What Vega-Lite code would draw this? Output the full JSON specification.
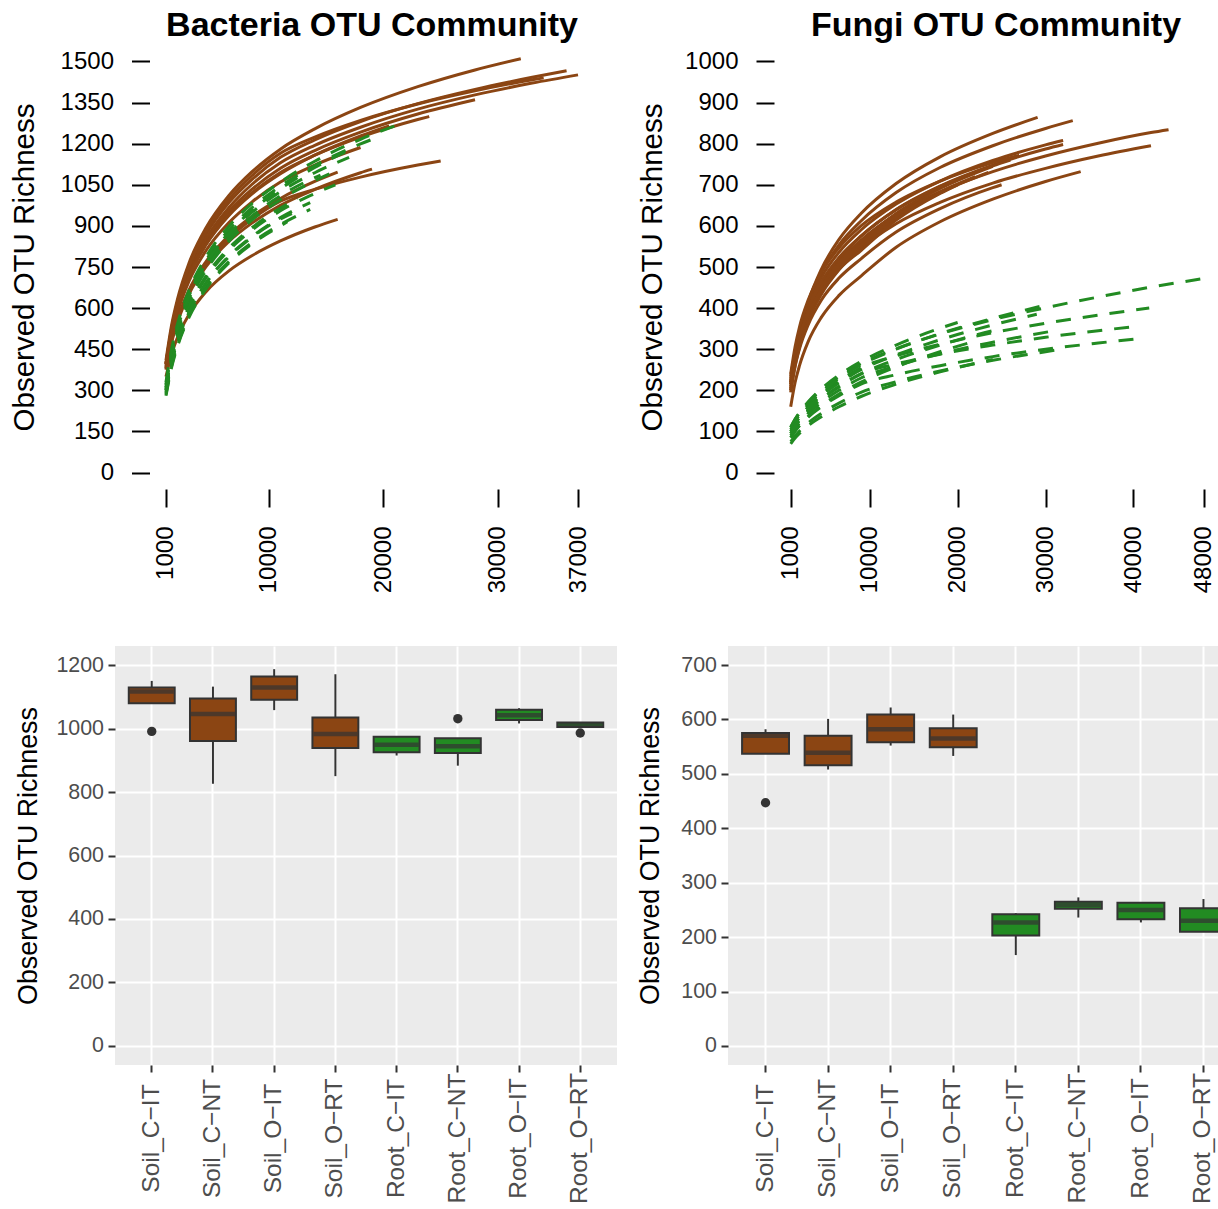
{
"$schema": "https://vega.github.io/schema/vega-lite/v6.json",
"padding": {"left": 9, "top": 9, "right": 0, "bottom": 0},
"config": {"font": "Liberation Sans", "view": {"stroke": null}},
"datasets": {
"bac": [
{"c":"B1","t":"S","x":1000,"y":410},{"c":"B1","t":"S","x":1500,"y":540},{"c":"B1","t":"S","x":2000,"y":632},{"c":"B1","t":"S","x":3000,"y":763},{"c":"B1","t":"S","x":4500,"y":893},{"c":"B1","t":"S","x":6500,"y":1011},{"c":"B1","t":"S","x":8500,"y":1097},{"c":"B1","t":"S","x":11000,"y":1180},{"c":"B1","t":"S","x":14000,"y":1254},{"c":"B1","t":"S","x":18000,"y":1332},{"c":"B1","t":"S","x":23000,"y":1408},{"c":"B1","t":"S","x":28000,"y":1469},{"c":"B1","t":"S","x":32000,"y":1510},
{"c":"B2","t":"S","x":1000,"y":395},{"c":"B2","t":"S","x":1500,"y":523},{"c":"B2","t":"S","x":2000,"y":613},{"c":"B2","t":"S","x":3000,"y":741},{"c":"B2","t":"S","x":4500,"y":869},{"c":"B2","t":"S","x":6500,"y":985},{"c":"B2","t":"S","x":8500,"y":1069},{"c":"B2","t":"S","x":11000,"y":1150},{"c":"B2","t":"S","x":14000,"y":1214},{"c":"B2","t":"S","x":18000,"y":1281},{"c":"B2","t":"S","x":23000,"y":1346},{"c":"B2","t":"S","x":28000,"y":1398},{"c":"B2","t":"S","x":33000,"y":1442},{"c":"B2","t":"S","x":36000,"y":1466},
{"c":"B3","t":"S","x":1000,"y":385},{"c":"B3","t":"S","x":1500,"y":511},{"c":"B3","t":"S","x":2000,"y":600},{"c":"B3","t":"S","x":3000,"y":727},{"c":"B3","t":"S","x":4500,"y":853},{"c":"B3","t":"S","x":6500,"y":967},{"c":"B3","t":"S","x":8500,"y":1051},{"c":"B3","t":"S","x":11000,"y":1130},{"c":"B3","t":"S","x":14000,"y":1194},{"c":"B3","t":"S","x":18000,"y":1260},{"c":"B3","t":"S","x":23000,"y":1326},{"c":"B3","t":"S","x":28000,"y":1378},{"c":"B3","t":"S","x":33000,"y":1421},{"c":"B3","t":"S","x":37000,"y":1451},
{"c":"B4","t":"S","x":1000,"y":400},{"c":"B4","t":"S","x":1500,"y":520},{"c":"B4","t":"S","x":2000,"y":605},{"c":"B4","t":"S","x":3000,"y":725},{"c":"B4","t":"S","x":4500,"y":845},{"c":"B4","t":"S","x":6500,"y":954},{"c":"B4","t":"S","x":8500,"y":1033},{"c":"B4","t":"S","x":11000,"y":1110},{"c":"B4","t":"S","x":14000,"y":1175},{"c":"B4","t":"S","x":18000,"y":1242},{"c":"B4","t":"S","x":23000,"y":1308},{"c":"B4","t":"S","x":28000,"y":1360},
{"c":"B5","t":"S","x":1000,"y":395},{"c":"B5","t":"S","x":1500,"y":513},{"c":"B5","t":"S","x":2000,"y":597},{"c":"B5","t":"S","x":3000,"y":716},{"c":"B5","t":"S","x":4500,"y":834},{"c":"B5","t":"S","x":6500,"y":942},{"c":"B5","t":"S","x":8500,"y":1020},{"c":"B5","t":"S","x":11000,"y":1095},{"c":"B5","t":"S","x":14000,"y":1158},{"c":"B5","t":"S","x":18000,"y":1224},{"c":"B5","t":"S","x":23000,"y":1288},{"c":"B5","t":"S","x":24000,"y":1299},
{"c":"B6","t":"S","x":1000,"y":390},{"c":"B6","t":"S","x":1500,"y":503},{"c":"B6","t":"S","x":2000,"y":583},{"c":"B6","t":"S","x":3000,"y":697},{"c":"B6","t":"S","x":4500,"y":810},{"c":"B6","t":"S","x":6500,"y":912},{"c":"B6","t":"S","x":8500,"y":987},{"c":"B6","t":"S","x":11000,"y":1060},{"c":"B6","t":"S","x":14000,"y":1122},{"c":"B6","t":"S","x":18000,"y":1186},
{"c":"B7","t":"S","x":1000,"y":380},{"c":"B7","t":"S","x":1500,"y":485},{"c":"B7","t":"S","x":2000,"y":559},{"c":"B7","t":"S","x":3000,"y":665},{"c":"B7","t":"S","x":4500,"y":770},{"c":"B7","t":"S","x":6500,"y":865},{"c":"B7","t":"S","x":8500,"y":934},{"c":"B7","t":"S","x":11000,"y":1000},{"c":"B7","t":"S","x":14000,"y":1062},{"c":"B7","t":"S","x":16000,"y":1096},
{"c":"B8","t":"S","x":1000,"y":375},{"c":"B8","t":"S","x":1500,"y":476},{"c":"B8","t":"S","x":2000,"y":548},{"c":"B8","t":"S","x":3000,"y":650},{"c":"B8","t":"S","x":4500,"y":751},{"c":"B8","t":"S","x":6500,"y":843},{"c":"B8","t":"S","x":8500,"y":910},{"c":"B8","t":"S","x":11000,"y":975},{"c":"B8","t":"S","x":14000,"y":1033},{"c":"B8","t":"S","x":18000,"y":1094},{"c":"B8","t":"S","x":19000,"y":1107},
{"c":"B9","t":"S","x":1000,"y":380},{"c":"B9","t":"S","x":1500,"y":483},{"c":"B9","t":"S","x":2000,"y":556},{"c":"B9","t":"S","x":3000,"y":659},{"c":"B9","t":"S","x":4500,"y":762},{"c":"B9","t":"S","x":6500,"y":855},{"c":"B9","t":"S","x":8500,"y":924},{"c":"B9","t":"S","x":11000,"y":990},{"c":"B9","t":"S","x":14000,"y":1033},{"c":"B9","t":"S","x":18000,"y":1078},{"c":"B9","t":"S","x":23000,"y":1122},{"c":"B9","t":"S","x":25000,"y":1137},
{"c":"B10","t":"S","x":1000,"y":350},{"c":"B10","t":"S","x":1500,"y":433},{"c":"B10","t":"S","x":2000,"y":493},{"c":"B10","t":"S","x":3000,"y":576},{"c":"B10","t":"S","x":4500,"y":660},{"c":"B10","t":"S","x":6500,"y":736},{"c":"B10","t":"S","x":8500,"y":791},{"c":"B10","t":"S","x":11000,"y":845},{"c":"B10","t":"S","x":14000,"y":896},{"c":"B10","t":"S","x":16000,"y":924},
{"c":"B11","t":"S","x":1000,"y":400},{"c":"B11","t":"S","x":1500,"y":529},{"c":"B11","t":"S","x":2000,"y":621},{"c":"B11","t":"S","x":3000,"y":751},{"c":"B11","t":"S","x":4500,"y":880},{"c":"B11","t":"S","x":6500,"y":997},{"c":"B11","t":"S","x":8500,"y":1083},{"c":"B11","t":"S","x":11000,"y":1165},{"c":"B11","t":"S","x":14000,"y":1224},{"c":"B11","t":"S","x":18000,"y":1285},{"c":"B11","t":"S","x":23000,"y":1345},{"c":"B11","t":"S","x":28000,"y":1393},{"c":"B11","t":"S","x":33000,"y":1433},{"c":"B11","t":"S","x":34000,"y":1440},
{"c":"B12","t":"S","x":1000,"y":395},{"c":"B12","t":"S","x":1500,"y":512},{"c":"B12","t":"S","x":2000,"y":596},{"c":"B12","t":"S","x":3000,"y":714},{"c":"B12","t":"S","x":4500,"y":831},{"c":"B12","t":"S","x":6500,"y":938},{"c":"B12","t":"S","x":8500,"y":1016},{"c":"B12","t":"S","x":11000,"y":1090},{"c":"B12","t":"S","x":14000,"y":1158},{"c":"B12","t":"S","x":18000,"y":1228},{"c":"B12","t":"S","x":20500,"y":1265},
{"c":"G1","t":"R","x":1000,"y":330},{"c":"G1","t":"R","x":1500,"y":453},{"c":"G1","t":"R","x":2000,"y":541},{"c":"G1","t":"R","x":3000,"y":664},{"c":"G1","t":"R","x":4500,"y":787},{"c":"G1","t":"R","x":6500,"y":899},{"c":"G1","t":"R","x":8500,"y":981},{"c":"G1","t":"R","x":11000,"y":1060},{"c":"G1","t":"R","x":14000,"y":1136},{"c":"G1","t":"R","x":18000,"y":1216},{"c":"G1","t":"R","x":21700,"y":1275},
{"c":"G2","t":"R","x":1000,"y":320},{"c":"G2","t":"R","x":1500,"y":442},{"c":"G2","t":"R","x":2000,"y":529},{"c":"G2","t":"R","x":3000,"y":652},{"c":"G2","t":"R","x":4500,"y":774},{"c":"G2","t":"R","x":6500,"y":885},{"c":"G2","t":"R","x":8500,"y":966},{"c":"G2","t":"R","x":11000,"y":1045},{"c":"G2","t":"R","x":14000,"y":1120},{"c":"G2","t":"R","x":18000,"y":1199},{"c":"G2","t":"R","x":19400,"y":1222},
{"c":"G3","t":"R","x":1000,"y":310},{"c":"G3","t":"R","x":1500,"y":432},{"c":"G3","t":"R","x":2000,"y":519},{"c":"G3","t":"R","x":3000,"y":642},{"c":"G3","t":"R","x":4500,"y":764},{"c":"G3","t":"R","x":6500,"y":875},{"c":"G3","t":"R","x":8500,"y":956},{"c":"G3","t":"R","x":11000,"y":1035},{"c":"G3","t":"R","x":14000,"y":1113},{"c":"G3","t":"R","x":17500,"y":1185},
{"c":"G4","t":"R","x":1000,"y":305},{"c":"G4","t":"R","x":1500,"y":422},{"c":"G4","t":"R","x":2000,"y":505},{"c":"G4","t":"R","x":3000,"y":621},{"c":"G4","t":"R","x":4500,"y":738},{"c":"G4","t":"R","x":6500,"y":844},{"c":"G4","t":"R","x":8500,"y":921},{"c":"G4","t":"R","x":11000,"y":995},{"c":"G4","t":"R","x":14000,"y":1065},{"c":"G4","t":"R","x":15800,"y":1100},
{"c":"G5","t":"R","x":1000,"y":300},{"c":"G5","t":"R","x":1500,"y":411},{"c":"G5","t":"R","x":2000,"y":489},{"c":"G5","t":"R","x":3000,"y":600},{"c":"G5","t":"R","x":4500,"y":711},{"c":"G5","t":"R","x":6500,"y":811},{"c":"G5","t":"R","x":8500,"y":884},{"c":"G5","t":"R","x":11000,"y":955},{"c":"G5","t":"R","x":14000,"y":1018},{"c":"G5","t":"R","x":15800,"y":1050},
{"c":"G6","t":"R","x":1000,"y":290},{"c":"G6","t":"R","x":1500,"y":398},{"c":"G6","t":"R","x":2000,"y":475},{"c":"G6","t":"R","x":3000,"y":583},{"c":"G6","t":"R","x":4500,"y":692},{"c":"G6","t":"R","x":6500,"y":790},{"c":"G6","t":"R","x":8500,"y":861},{"c":"G6","t":"R","x":11000,"y":930},{"c":"G6","t":"R","x":13600,"y":985},
{"c":"G7","t":"R","x":1000,"y":285},{"c":"G7","t":"R","x":1500,"y":390},{"c":"G7","t":"R","x":2000,"y":464},{"c":"G7","t":"R","x":3000,"y":570},{"c":"G7","t":"R","x":4500,"y":675},{"c":"G7","t":"R","x":6500,"y":770},{"c":"G7","t":"R","x":8500,"y":839},{"c":"G7","t":"R","x":11000,"y":905},{"c":"G7","t":"R","x":13600,"y":960},
{"c":"G8","t":"R","x":1000,"y":280},{"c":"G8","t":"R","x":1500,"y":385},{"c":"G8","t":"R","x":2000,"y":459},{"c":"G8","t":"R","x":3000,"y":565},{"c":"G8","t":"R","x":4500,"y":670},{"c":"G8","t":"R","x":6500,"y":765},{"c":"G8","t":"R","x":8500,"y":834},{"c":"G8","t":"R","x":11000,"y":900},{"c":"G8","t":"R","x":11600,"y":915},
{"c":"G9","t":"R","x":1000,"y":310},{"c":"G9","t":"R","x":1500,"y":428},{"c":"G9","t":"R","x":2000,"y":512},{"c":"G9","t":"R","x":3000,"y":631},{"c":"G9","t":"R","x":4500,"y":749},{"c":"G9","t":"R","x":6500,"y":857},{"c":"G9","t":"R","x":8500,"y":935},{"c":"G9","t":"R","x":11000,"y":1010},{"c":"G9","t":"R","x":14000,"y":1076},{"c":"G9","t":"R","x":14500,"y":1085},
{"c":"G10","t":"R","x":1000,"y":300},{"c":"G10","t":"R","x":1500,"y":412},{"c":"G10","t":"R","x":2000,"y":492},{"c":"G10","t":"R","x":3000,"y":604},{"c":"G10","t":"R","x":4500,"y":717},{"c":"G10","t":"R","x":6500,"y":819},{"c":"G10","t":"R","x":8500,"y":893},{"c":"G10","t":"R","x":11000,"y":965},{"c":"G10","t":"R","x":12500,"y":1000},
{"c":"G11","t":"R","x":1000,"y":320},{"c":"G11","t":"R","x":1500,"y":439},{"c":"G11","t":"R","x":2000,"y":524},{"c":"G11","t":"R","x":3000,"y":643},{"c":"G11","t":"R","x":4500,"y":762},{"c":"G11","t":"R","x":6500,"y":870},{"c":"G11","t":"R","x":8500,"y":949},{"c":"G11","t":"R","x":11000,"y":1025},{"c":"G11","t":"R","x":14000,"y":1094},{"c":"G11","t":"R","x":17000,"y":1150},
{"c":"G12","t":"R","x":1000,"y":295},{"c":"G12","t":"R","x":1500,"y":402},{"c":"G12","t":"R","x":2000,"y":477},{"c":"G12","t":"R","x":3000,"y":584},{"c":"G12","t":"R","x":4500,"y":691},{"c":"G12","t":"R","x":6500,"y":787},{"c":"G12","t":"R","x":8500,"y":858},{"c":"G12","t":"R","x":11000,"y":925},{"c":"G12","t":"R","x":12000,"y":945}
],
"fun": [
{"c":"F1","t":"S","x":1000,"y":200},{"c":"F1","t":"S","x":1500,"y":279},{"c":"F1","t":"S","x":2000,"y":336},{"c":"F1","t":"S","x":3000,"y":415},{"c":"F1","t":"S","x":4500,"y":495},{"c":"F1","t":"S","x":6500,"y":567},{"c":"F1","t":"S","x":9000,"y":630},{"c":"F1","t":"S","x":13000,"y":703},{"c":"F1","t":"S","x":18000,"y":768},{"c":"F1","t":"S","x":24000,"y":825},{"c":"F1","t":"S","x":29100,"y":864},
{"c":"F2","t":"S","x":1000,"y":215},{"c":"F2","t":"S","x":1500,"y":288},{"c":"F2","t":"S","x":2000,"y":340},{"c":"F2","t":"S","x":3000,"y":414},{"c":"F2","t":"S","x":4500,"y":487},{"c":"F2","t":"S","x":6500,"y":554},{"c":"F2","t":"S","x":9000,"y":612},{"c":"F2","t":"S","x":13000,"y":681},{"c":"F2","t":"S","x":18000,"y":742},{"c":"F2","t":"S","x":24000,"y":795},{"c":"F2","t":"S","x":30000,"y":837},{"c":"F2","t":"S","x":33100,"y":856},
{"c":"F3","t":"S","x":1000,"y":225},{"c":"F3","t":"S","x":1500,"y":292},{"c":"F3","t":"S","x":2000,"y":340},{"c":"F3","t":"S","x":3000,"y":407},{"c":"F3","t":"S","x":4500,"y":475},{"c":"F3","t":"S","x":6500,"y":536},{"c":"F3","t":"S","x":9000,"y":590},{"c":"F3","t":"S","x":13000,"y":653},{"c":"F3","t":"S","x":18000,"y":709},{"c":"F3","t":"S","x":24000,"y":759},{"c":"F3","t":"S","x":30000,"y":797},{"c":"F3","t":"S","x":32000,"y":808},
{"c":"F4","t":"S","x":1000,"y":205},{"c":"F4","t":"S","x":1500,"y":273},{"c":"F4","t":"S","x":2000,"y":321},{"c":"F4","t":"S","x":3000,"y":390},{"c":"F4","t":"S","x":4500,"y":458},{"c":"F4","t":"S","x":6500,"y":520},{"c":"F4","t":"S","x":9000,"y":575},{"c":"F4","t":"S","x":13000,"y":640},{"c":"F4","t":"S","x":18000,"y":697},{"c":"F4","t":"S","x":24000,"y":748},{"c":"F4","t":"S","x":30000,"y":787},{"c":"F4","t":"S","x":32000,"y":798},
{"c":"F5","t":"S","x":1000,"y":210},{"c":"F5","t":"S","x":1500,"y":276},{"c":"F5","t":"S","x":2000,"y":322},{"c":"F5","t":"S","x":3000,"y":388},{"c":"F5","t":"S","x":4500,"y":454},{"c":"F5","t":"S","x":6500,"y":513},{"c":"F5","t":"S","x":9000,"y":565},{"c":"F5","t":"S","x":13000,"y":628},{"c":"F5","t":"S","x":18000,"y":683},{"c":"F5","t":"S","x":24000,"y":732},{"c":"F5","t":"S","x":30000,"y":770},{"c":"F5","t":"S","x":36000,"y":801},{"c":"F5","t":"S","x":42000,"y":827},{"c":"F5","t":"S","x":44000,"y":834},
{"c":"F6","t":"S","x":1000,"y":195},{"c":"F6","t":"S","x":1500,"y":259},{"c":"F6","t":"S","x":2000,"y":305},{"c":"F6","t":"S","x":3000,"y":370},{"c":"F6","t":"S","x":4500,"y":434},{"c":"F6","t":"S","x":6500,"y":493},{"c":"F6","t":"S","x":9000,"y":545},{"c":"F6","t":"S","x":13000,"y":605},{"c":"F6","t":"S","x":18000,"y":657},{"c":"F6","t":"S","x":24000,"y":704},{"c":"F6","t":"S","x":30000,"y":740},{"c":"F6","t":"S","x":36000,"y":770},{"c":"F6","t":"S","x":42000,"y":795},
{"c":"F7","t":"S","x":1000,"y":160},{"c":"F7","t":"S","x":1500,"y":219},{"c":"F7","t":"S","x":2000,"y":260},{"c":"F7","t":"S","x":3000,"y":319},{"c":"F7","t":"S","x":4500,"y":378},{"c":"F7","t":"S","x":6500,"y":431},{"c":"F7","t":"S","x":9000,"y":478},{"c":"F7","t":"S","x":13000,"y":548},{"c":"F7","t":"S","x":18000,"y":610},{"c":"F7","t":"S","x":24000,"y":665},{"c":"F7","t":"S","x":30000,"y":708},{"c":"F7","t":"S","x":34000,"y":732},
{"c":"F8","t":"S","x":1000,"y":220},{"c":"F8","t":"S","x":1500,"y":283},{"c":"F8","t":"S","x":2000,"y":327},{"c":"F8","t":"S","x":3000,"y":390},{"c":"F8","t":"S","x":4500,"y":453},{"c":"F8","t":"S","x":6500,"y":510},{"c":"F8","t":"S","x":9000,"y":560},{"c":"F8","t":"S","x":13000,"y":630},{"c":"F8","t":"S","x":18000,"y":691},{"c":"F8","t":"S","x":24000,"y":745},
{"c":"F9","t":"S","x":1000,"y":215},{"c":"F9","t":"S","x":1500,"y":277},{"c":"F9","t":"S","x":2000,"y":320},{"c":"F9","t":"S","x":3000,"y":382},{"c":"F9","t":"S","x":4500,"y":444},{"c":"F9","t":"S","x":6500,"y":500},{"c":"F9","t":"S","x":9000,"y":548},{"c":"F9","t":"S","x":13000,"y":618},{"c":"F9","t":"S","x":18000,"y":680},{"c":"F9","t":"S","x":23500,"y":730},
{"c":"F10","t":"S","x":1000,"y":230},{"c":"F10","t":"S","x":1500,"y":290},{"c":"F10","t":"S","x":2000,"y":333},{"c":"F10","t":"S","x":3000,"y":393},{"c":"F10","t":"S","x":4500,"y":453},{"c":"F10","t":"S","x":6500,"y":507},{"c":"F10","t":"S","x":9000,"y":555},{"c":"F10","t":"S","x":13000,"y":623},{"c":"F10","t":"S","x":18000,"y":683},{"c":"F10","t":"S","x":22000,"y":720},
{"c":"F11","t":"S","x":1000,"y":220},{"c":"F11","t":"S","x":1500,"y":286},{"c":"F11","t":"S","x":2000,"y":332},{"c":"F11","t":"S","x":3000,"y":398},{"c":"F11","t":"S","x":4500,"y":464},{"c":"F11","t":"S","x":6500,"y":523},{"c":"F11","t":"S","x":9000,"y":575},{"c":"F11","t":"S","x":13000,"y":639},{"c":"F11","t":"S","x":18000,"y":696},{"c":"F11","t":"S","x":24000,"y":746},{"c":"F11","t":"S","x":26000,"y":760},
{"c":"F12","t":"S","x":1000,"y":235},{"c":"F12","t":"S","x":1500,"y":291},{"c":"F12","t":"S","x":2000,"y":331},{"c":"F12","t":"S","x":3000,"y":388},{"c":"F12","t":"S","x":4500,"y":444},{"c":"F12","t":"S","x":6500,"y":495},{"c":"F12","t":"S","x":9000,"y":540},{"c":"F12","t":"S","x":13000,"y":614},{"c":"F12","t":"S","x":18000,"y":679},{"c":"F12","t":"S","x":20000,"y":700},
{"c":"F13","t":"S","x":1000,"y":200},{"c":"F13","t":"S","x":1500,"y":259},{"c":"F13","t":"S","x":2000,"y":301},{"c":"F13","t":"S","x":3000,"y":360},{"c":"F13","t":"S","x":4500,"y":420},{"c":"F13","t":"S","x":6500,"y":473},{"c":"F13","t":"S","x":9000,"y":520},{"c":"F13","t":"S","x":13000,"y":585},{"c":"F13","t":"S","x":18000,"y":642},{"c":"F13","t":"S","x":24000,"y":693},{"c":"F13","t":"S","x":25000,"y":700},
{"c":"F14","t":"S","x":1000,"y":240},{"c":"F14","t":"S","x":1500,"y":306},{"c":"F14","t":"S","x":2000,"y":354},{"c":"F14","t":"S","x":3000,"y":420},{"c":"F14","t":"S","x":4500,"y":487},{"c":"F14","t":"S","x":6500,"y":547},{"c":"F14","t":"S","x":9000,"y":600},{"c":"F14","t":"S","x":13000,"y":658},{"c":"F14","t":"S","x":18000,"y":709},{"c":"F14","t":"S","x":24000,"y":754},{"c":"F14","t":"S","x":27000,"y":772},
{"c":"H1","t":"R","x":1000,"y":110},{"c":"H1","t":"R","x":1500,"y":129},{"c":"H1","t":"R","x":2000,"y":145},{"c":"H1","t":"R","x":3000,"y":171},{"c":"H1","t":"R","x":4500,"y":201},{"c":"H1","t":"R","x":6500,"y":233},{"c":"H1","t":"R","x":9000,"y":265},{"c":"H1","t":"R","x":13000,"y":301},{"c":"H1","t":"R","x":18000,"y":337},{"c":"H1","t":"R","x":24000,"y":372},{"c":"H1","t":"R","x":30000,"y":401},{"c":"H1","t":"R","x":36000,"y":427},{"c":"H1","t":"R","x":42000,"y":451},{"c":"H1","t":"R","x":48000,"y":472},
{"c":"H2","t":"R","x":1000,"y":100},{"c":"H2","t":"R","x":1500,"y":119},{"c":"H2","t":"R","x":2000,"y":134},{"c":"H2","t":"R","x":3000,"y":160},{"c":"H2","t":"R","x":4500,"y":190},{"c":"H2","t":"R","x":6500,"y":222},{"c":"H2","t":"R","x":9000,"y":255},{"c":"H2","t":"R","x":13000,"y":284},{"c":"H2","t":"R","x":18000,"y":312},{"c":"H2","t":"R","x":24000,"y":340},{"c":"H2","t":"R","x":30000,"y":363},{"c":"H2","t":"R","x":36000,"y":383},{"c":"H2","t":"R","x":41800,"y":400},
{"c":"H3","t":"R","x":1000,"y":95},{"c":"H3","t":"R","x":1500,"y":113},{"c":"H3","t":"R","x":2000,"y":127},{"c":"H3","t":"R","x":3000,"y":151},{"c":"H3","t":"R","x":4500,"y":179},{"c":"H3","t":"R","x":6500,"y":209},{"c":"H3","t":"R","x":9000,"y":240},{"c":"H3","t":"R","x":13000,"y":264},{"c":"H3","t":"R","x":18000,"y":288},{"c":"H3","t":"R","x":24000,"y":310},{"c":"H3","t":"R","x":30000,"y":329},{"c":"H3","t":"R","x":36000,"y":345},{"c":"H3","t":"R","x":40100,"y":355},
{"c":"H4","t":"R","x":1000,"y":85},{"c":"H4","t":"R","x":1500,"y":101},{"c":"H4","t":"R","x":2000,"y":114},{"c":"H4","t":"R","x":3000,"y":135},{"c":"H4","t":"R","x":4500,"y":160},{"c":"H4","t":"R","x":6500,"y":187},{"c":"H4","t":"R","x":9000,"y":215},{"c":"H4","t":"R","x":13000,"y":238},{"c":"H4","t":"R","x":18000,"y":260},{"c":"H4","t":"R","x":24000,"y":282},{"c":"H4","t":"R","x":30000,"y":300},{"c":"H4","t":"R","x":36000,"y":315},{"c":"H4","t":"R","x":40300,"y":325},
{"c":"H5","t":"R","x":1000,"y":105},{"c":"H5","t":"R","x":1500,"y":124},{"c":"H5","t":"R","x":2000,"y":140},{"c":"H5","t":"R","x":3000,"y":166},{"c":"H5","t":"R","x":4500,"y":196},{"c":"H5","t":"R","x":6500,"y":229},{"c":"H5","t":"R","x":9000,"y":262},{"c":"H5","t":"R","x":13000,"y":300},{"c":"H5","t":"R","x":18000,"y":338},{"c":"H5","t":"R","x":24000,"y":375},{"c":"H5","t":"R","x":30500,"y":410},
{"c":"H6","t":"R","x":1000,"y":100},{"c":"H6","t":"R","x":1500,"y":118},{"c":"H6","t":"R","x":2000,"y":134},{"c":"H6","t":"R","x":3000,"y":158},{"c":"H6","t":"R","x":4500,"y":187},{"c":"H6","t":"R","x":6500,"y":218},{"c":"H6","t":"R","x":9000,"y":250},{"c":"H6","t":"R","x":13000,"y":286},{"c":"H6","t":"R","x":18000,"y":323},{"c":"H6","t":"R","x":24000,"y":359},{"c":"H6","t":"R","x":29000,"y":385},
{"c":"H7","t":"R","x":1000,"y":90},{"c":"H7","t":"R","x":1500,"y":107},{"c":"H7","t":"R","x":2000,"y":121},{"c":"H7","t":"R","x":3000,"y":144},{"c":"H7","t":"R","x":4500,"y":171},{"c":"H7","t":"R","x":6500,"y":200},{"c":"H7","t":"R","x":9000,"y":230},{"c":"H7","t":"R","x":13000,"y":259},{"c":"H7","t":"R","x":18000,"y":289},{"c":"H7","t":"R","x":24000,"y":317},{"c":"H7","t":"R","x":31000,"y":345},
{"c":"H8","t":"R","x":1000,"y":75},{"c":"H8","t":"R","x":1500,"y":89},{"c":"H8","t":"R","x":2000,"y":101},{"c":"H8","t":"R","x":3000,"y":121},{"c":"H8","t":"R","x":4500,"y":144},{"c":"H8","t":"R","x":6500,"y":169},{"c":"H8","t":"R","x":9000,"y":195},{"c":"H8","t":"R","x":13000,"y":221},{"c":"H8","t":"R","x":18000,"y":247},{"c":"H8","t":"R","x":24000,"y":273},{"c":"H8","t":"R","x":30000,"y":294},{"c":"H8","t":"R","x":32300,"y":302},
{"c":"H9","t":"R","x":1000,"y":70},{"c":"H9","t":"R","x":1500,"y":84},{"c":"H9","t":"R","x":2000,"y":95},{"c":"H9","t":"R","x":3000,"y":114},{"c":"H9","t":"R","x":4500,"y":136},{"c":"H9","t":"R","x":6500,"y":160},{"c":"H9","t":"R","x":9000,"y":185},{"c":"H9","t":"R","x":13000,"y":215},{"c":"H9","t":"R","x":18000,"y":245},{"c":"H9","t":"R","x":24000,"y":275},
{"c":"H10","t":"R","x":1000,"y":95},{"c":"H10","t":"R","x":1500,"y":113},{"c":"H10","t":"R","x":2000,"y":127},{"c":"H10","t":"R","x":3000,"y":151},{"c":"H10","t":"R","x":4500,"y":179},{"c":"H10","t":"R","x":6500,"y":209},{"c":"H10","t":"R","x":9000,"y":240},{"c":"H10","t":"R","x":13000,"y":275},{"c":"H10","t":"R","x":18000,"y":310},{"c":"H10","t":"R","x":24000,"y":345},{"c":"H10","t":"R","x":25000,"y":350},
{"c":"H11","t":"R","x":1000,"y":110},{"c":"H11","t":"R","x":1500,"y":130},{"c":"H11","t":"R","x":2000,"y":146},{"c":"H11","t":"R","x":3000,"y":172},{"c":"H11","t":"R","x":4500,"y":204},{"c":"H11","t":"R","x":6500,"y":237},{"c":"H11","t":"R","x":9000,"y":270},{"c":"H11","t":"R","x":13000,"y":310},{"c":"H11","t":"R","x":18000,"y":351},{"c":"H11","t":"R","x":20000,"y":365},
{"c":"H12","t":"R","x":1000,"y":85},{"c":"H12","t":"R","x":1500,"y":101},{"c":"H12","t":"R","x":2000,"y":115},{"c":"H12","t":"R","x":3000,"y":137},{"c":"H12","t":"R","x":4500,"y":163},{"c":"H12","t":"R","x":6500,"y":191},{"c":"H12","t":"R","x":9000,"y":220},{"c":"H12","t":"R","x":13000,"y":257},{"c":"H12","t":"R","x":18000,"y":294},{"c":"H12","t":"R","x":22000,"y":320}
],
"bbox": [
{"g":"Soil_C−IT","t":"S","lo":1080,"q1":1080,"md":1117,"q3":1129,"hi":1150},
{"g":"Soil_C−NT","t":"S","lo":826,"q1":961,"md":1046,"q3":1095,"hi":1132},
{"g":"Soil_O−IT","t":"S","lo":1058,"q1":1091,"md":1129,"q3":1164,"hi":1187},
{"g":"Soil_O−RT","t":"S","lo":850,"q1":939,"md":983,"q3":1035,"hi":1171},
{"g":"Root_C−IT","t":"R","lo":915,"q1":925,"md":949,"q3":974,"hi":975},
{"g":"Root_C−NT","t":"R","lo":883,"q1":923,"md":944,"q3":969,"hi":969},
{"g":"Root_O−IT","t":"R","lo":1016,"q1":1027,"md":1042,"q3":1059,"hi":1064},
{"g":"Root_O−RT","t":"R","lo":1005,"q1":1005,"md":1011,"q3":1019,"hi":1020}
],
"bout": [
{"g":"Soil_C−IT","v":991},{"g":"Root_C−NT","v":1031},{"g":"Root_O−RT","v":986}
],
"fbox": [
{"g":"Soil_C−IT","t":"S","lo":537,"q1":537,"md":570,"q3":575,"hi":582},
{"g":"Soil_C−NT","t":"S","lo":508,"q1":516,"md":539,"q3":570,"hi":601},
{"g":"Soil_O−IT","t":"S","lo":552,"q1":558,"md":582,"q3":609,"hi":622},
{"g":"Soil_O−RT","t":"S","lo":533,"q1":549,"md":565,"q3":584,"hi":609},
{"g":"Root_C−IT","t":"R","lo":167,"q1":203,"md":227,"q3":242,"hi":244},
{"g":"Root_C−NT","t":"R","lo":236,"q1":252,"md":259,"q3":265,"hi":273},
{"g":"Root_O−IT","t":"R","lo":227,"q1":233,"md":250,"q3":263,"hi":264},
{"g":"Root_O−RT","t":"R","lo":210,"q1":210,"md":230,"q3":253,"hi":270}
],
"fout": [
{"g":"Soil_C−IT","v":447}
]
},
"columns": 2,
"align": "none",
"spacing": {"row": 53, "column": 20},
"concat": [
{
"width": 479.5, "height": 444,
"title": {"text": "Bacteria OTU Community", "fontSize": 34, "fontWeight": "bold", "color": "black", "frame": "group", "anchor": "middle", "baseline": "alphabetic", "offset": -25, "dx": 17.25},
"encoding": {
"x": {"field": "x", "type": "quantitative", "scale": {"domain": [-440, 38440], "nice": false, "zero": false, "range": [34.5, 479.5]},
"axis": {"title": null, "values": [1000, 10000, 20000, 30000, 37000], "format": "d", "domain": false, "grid": false, "tickSize": 18, "tickWidth": 2, "tickColor": "black", "labelAngle": -90, "labelAlign": "right", "labelBaseline": "middle", "labelPadding": 19, "labelFontSize": 24, "labelColor": "black", "labelFlush": false, "labelOverlap": false}},
"y": {"field": "y", "type": "quantitative", "scale": {"domain": [-60, 1560], "nice": false, "zero": false},
"axis": {"title": "Observed OTU Richness", "offset": -34.5, "titleFontSize": 29.5, "titleFontWeight": "normal", "titleColor": "black", "titlePadding": 21, "values": [0, 150, 300, 450, 600, 750, 900, 1050, 1200, 1350, 1500], "format": "d", "domain": false, "grid": false, "tickSize": 18, "tickWidth": 2, "tickColor": "black", "labelFontSize": 24, "labelColor": "black", "labelPadding": 18, "labelFlush": false, "labelOverlap": false}}
},
"layer": [
{"data": {"name": "bac"}, "transform": [{"filter": "datum.t == 'S'"}], "mark": {"type": "line", "color": "#8B4513", "strokeWidth": 3, "interpolate": "monotone"}, "encoding": {"detail": {"field": "c"}}},
{"data": {"name": "bac"}, "transform": [{"filter": "datum.t == 'R'"}], "mark": {"type": "line", "color": "#228B22", "strokeWidth": 3, "strokeDash": [15, 12], "interpolate": "monotone"}, "encoding": {"detail": {"field": "c"}}},
{"data": {"values": [{}]}, "mark": {"type": "rule", "color": "#FF0000", "strokeWidth": 3, "strokeDash": [17, 12]}, "encoding": {"x": {"datum": 11000}, "y": {"datum": -60}, "y2": {"datum": 1560}}},
{"data": {"values": [{}]}, "mark": {"type": "rule", "color": "black", "strokeWidth": 2}, "encoding": {"x": {"datum": -440}, "y": {"datum": 0}, "y2": {"datum": 1500}}},
{"data": {"values": [{}]}, "mark": {"type": "rule", "color": "black", "strokeWidth": 2}, "encoding": {"y": {"datum": -60}, "x": {"datum": 1000}, "x2": {"datum": 37000}}}
]
},
{
"width": 444, "height": 444,
"title": {"text": "Fungi OTU Community", "fontSize": 34, "fontWeight": "bold", "color": "black", "frame": "group", "anchor": "middle", "baseline": "alphabetic", "offset": -25},
"encoding": {
"x": {"field": "x", "type": "quantitative", "scale": {"domain": [-900, 49627], "nice": false, "zero": false},
"axis": {"title": null, "values": [1000, 10000, 20000, 30000, 40000, 48000], "format": "d", "domain": false, "grid": false, "tickSize": 18, "tickWidth": 2, "tickColor": "black", "labelAngle": -90, "labelAlign": "right", "labelBaseline": "middle", "labelPadding": 19, "labelFontSize": 24, "labelColor": "black", "labelFlush": false, "labelOverlap": false}},
"y": {"field": "y", "type": "quantitative", "scale": {"domain": [-40, 1040], "nice": false, "zero": false},
"axis": {"title": "Observed OTU Richness", "titleFontSize": 29.5, "titleFontWeight": "normal", "titleColor": "black", "titlePadding": 17, "values": [0, 100, 200, 300, 400, 500, 600, 700, 800, 900, 1000], "format": "d", "domain": false, "grid": false, "tickSize": 18, "tickWidth": 2, "tickColor": "black", "labelFontSize": 24, "labelColor": "black", "labelPadding": 18, "labelFlush": false, "labelOverlap": false}}
},
"layer": [
{"data": {"name": "fun"}, "transform": [{"filter": "datum.t == 'S'"}], "mark": {"type": "line", "color": "#8B4513", "strokeWidth": 3, "interpolate": "monotone"}, "encoding": {"detail": {"field": "c"}}},
{"data": {"name": "fun"}, "transform": [{"filter": "datum.t == 'R'"}], "mark": {"type": "line", "color": "#228B22", "strokeWidth": 3, "strokeDash": [15, 12], "interpolate": "monotone"}, "encoding": {"detail": {"field": "c"}}},
{"data": {"values": [{}]}, "mark": {"type": "rule", "color": "#FF0000", "strokeWidth": 3, "strokeDash": [17, 12]}, "encoding": {"x": {"datum": 9000}, "y": {"datum": -40}, "y2": {"datum": 1040}}},
{"data": {"values": [{}]}, "mark": {"type": "rule", "color": "black", "strokeWidth": 2}, "encoding": {"x": {"datum": -900}, "y": {"datum": 0}, "y2": {"datum": 1000}}},
{"data": {"values": [{}]}, "mark": {"type": "rule", "color": "black", "strokeWidth": 2}, "encoding": {"y": {"datum": -40}, "x": {"datum": 1000}, "x2": {"datum": 48000}}}
]
},
{
"width": 502, "height": 419,
"view": {"fill": "#EBEBEB", "stroke": null},
"encoding": {
"x": {"field": "g", "type": "nominal", "scale": {"type": "band", "domain": ["Soil_C−IT","Soil_C−NT","Soil_O−IT","Soil_O−RT","Root_C−IT","Root_C−NT","Root_O−IT","Root_O−RT"], "paddingInner": 0, "paddingOuter": 0.1},
"axis": {"title": null, "bandPosition": 0.5, "grid": true, "gridColor": "white", "gridWidth": 2, "domain": false, "tickSize": 7, "tickWidth": 2, "tickColor": "#333333", "labelAngle": -90, "labelAlign": "center", "labelBaseline": "middle", "labelPadding": 66, "labelFontSize": 24.5, "labelColor": "#4D4D4D", "labelOverlap": false}}
},
"layer": [
{"data": {"name": "bbox"}, "mark": {"type": "rule", "color": "#333333", "strokeWidth": 2},
"encoding": {"y": {"field": "lo", "type": "quantitative", "scale": {"domain": [-60, 1260], "nice": false, "zero": false},
"axis": {"title": "Observed OTU Richness", "titleFontSize": 26.8, "titleFontWeight": "normal", "titleColor": "black", "titlePadding": 13, "values": [0,100,200,300,400,500,600,700,800,900,1000,1100,1200], "labelExpr": "datum.value % 200 == 0 ? datum.label : ''", "format": "d", "grid": true, "gridColor": "white", "gridWidth": {"condition": {"test": "datum.value % 200 == 0", "value": 2}, "value": 1}, "tickOpacity": {"condition": {"test": "datum.value % 200 == 0", "value": 1}, "value": 0}, "tickSize": 7, "tickWidth": 2, "tickColor": "#333333", "domain": false, "labelFontSize": 21.4, "labelColor": "#4D4D4D", "labelPadding": 4.5, "labelOverlap": false, "labelFlush": false}},
"y2": {"field": "hi"}}},
{"data": {"name": "bbox"}, "mark": {"type": "bar", "stroke": "#333333", "strokeWidth": 2, "width": {"band": 0.75}},
"encoding": {"y": {"field": "q1", "type": "quantitative", "scale": {"domain": [-60, 1260], "nice": false, "zero": false}}, "y2": {"field": "q3"},
"fill": {"field": "t", "type": "nominal", "scale": {"domain": ["S", "R"], "range": ["#8B4513", "#228B22"]}, "legend": null}}},
{"data": {"name": "bbox"}, "mark": {"type": "tick", "color": "#333333", "thickness": 4.5, "size": 44, "orient": "horizontal"},
"encoding": {"y": {"field": "md", "type": "quantitative", "scale": {"domain": [-60, 1260], "nice": false, "zero": false}}}},
{"data": {"name": "bout"}, "mark": {"type": "point", "filled": true, "color": "#333333", "size": 88, "opacity": 1},
"encoding": {"y": {"field": "v", "type": "quantitative", "scale": {"domain": [-60, 1260], "nice": false, "zero": false}}}}
]
},
{
"width": 490, "height": 419,
"view": {"fill": "#EBEBEB", "stroke": null},
"encoding": {
"x": {"field": "g", "type": "nominal", "scale": {"type": "band", "domain": ["Soil_C−IT","Soil_C−NT","Soil_O−IT","Soil_O−RT","Root_C−IT","Root_C−NT","Root_O−IT","Root_O−RT"], "paddingInner": 0, "paddingOuter": 0.1, "range": [0, 513]},
"axis": {"title": null, "bandPosition": 0.5, "grid": true, "gridColor": "white", "gridWidth": 2, "domain": false, "tickSize": 7, "tickWidth": 2, "tickColor": "#333333", "labelAngle": -90, "labelAlign": "center", "labelBaseline": "middle", "labelPadding": 66, "labelFontSize": 24.5, "labelColor": "#4D4D4D", "labelOverlap": false}}
},
"layer": [
{"data": {"name": "fbox"}, "mark": {"type": "rule", "color": "#333333", "strokeWidth": 2, "clip": true},
"encoding": {"y": {"field": "lo", "type": "quantitative", "scale": {"domain": [-35, 735], "nice": false, "zero": false},
"axis": {"title": "Observed OTU Richness", "titleFontSize": 26.8, "titleFontWeight": "normal", "titleColor": "black", "titlePadding": 16.5, "values": [0,50,100,150,200,250,300,350,400,450,500,550,600,650,700], "labelExpr": "datum.value % 100 == 0 ? datum.label : ''", "format": "d", "grid": true, "gridColor": "white", "gridWidth": {"condition": {"test": "datum.value % 100 == 0", "value": 2}, "value": 1}, "tickOpacity": {"condition": {"test": "datum.value % 100 == 0", "value": 1}, "value": 0}, "tickSize": 7, "tickWidth": 2, "tickColor": "#333333", "domain": false, "labelFontSize": 21.4, "labelColor": "#4D4D4D", "labelPadding": 4.5, "labelOverlap": false, "labelFlush": false}},
"y2": {"field": "hi"}}},
{"data": {"name": "fbox"}, "mark": {"type": "bar", "stroke": "#333333", "strokeWidth": 2, "width": {"band": 0.75}, "clip": true},
"encoding": {"y": {"field": "q1", "type": "quantitative", "scale": {"domain": [-35, 735], "nice": false, "zero": false}}, "y2": {"field": "q3"},
"fill": {"field": "t", "type": "nominal", "scale": {"domain": ["S", "R"], "range": ["#8B4513", "#228B22"]}, "legend": null}}},
{"data": {"name": "fbox"}, "mark": {"type": "tick", "color": "#333333", "thickness": 4.5, "size": 45, "orient": "horizontal", "clip": true},
"encoding": {"y": {"field": "md", "type": "quantitative", "scale": {"domain": [-35, 735], "nice": false, "zero": false}}}},
{"data": {"name": "fout"}, "mark": {"type": "point", "filled": true, "color": "#333333", "size": 88, "opacity": 1, "clip": true},
"encoding": {"y": {"field": "v", "type": "quantitative", "scale": {"domain": [-35, 735], "nice": false, "zero": false}}}}
]
}
]
}
